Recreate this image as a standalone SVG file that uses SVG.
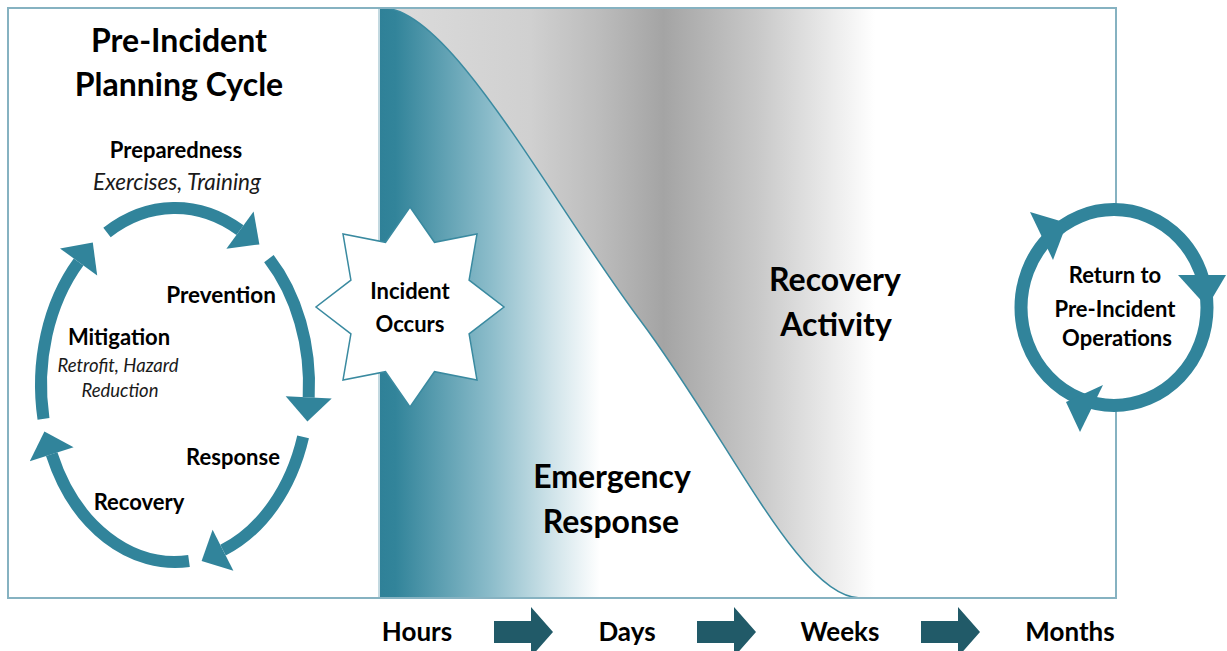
<svg xmlns="http://www.w3.org/2000/svg" width="1227" height="651" viewBox="0 0 1227 651">
<style>
.t{font-family:Lato,"Liberation Sans",sans-serif;font-weight:bold;fill:#000;text-anchor:middle}
.i{font-family:Lato,"Liberation Sans",sans-serif;font-style:italic;fill:#1a1a1a;text-anchor:middle}
.arc{fill:none;stroke:#31849b;stroke-width:12}
.head{fill:#31849b}
.step{fill:#215a68}
</style>
<defs>
<linearGradient id="tealG" gradientUnits="userSpaceOnUse" x1="380" y1="0" x2="600" y2="0">
<stop offset="0" stop-color="#2f8198"/>
<stop offset="0.07" stop-color="#32849a"/>
<stop offset="0.5" stop-color="#8bbcca"/>
<stop offset="0.78" stop-color="#cfe3e9"/>
<stop offset="1" stop-color="#ffffff"/>
</linearGradient>
<linearGradient id="grayG" gradientUnits="userSpaceOnUse" x1="383" y1="0" x2="875" y2="0">
<stop offset="0" stop-color="#dcdcdc"/>
<stop offset="0.3" stop-color="#d0d0d0"/>
<stop offset="0.44" stop-color="#bcbcbc"/>
<stop offset="0.57" stop-color="#a4a4a4"/>
<stop offset="0.76" stop-color="#c8c8c8"/>
<stop offset="1" stop-color="#ffffff"/>
</linearGradient>
</defs>
<rect width="1227" height="651" fill="#fff"/>
<g id="timeline-area">
<path d="M380,8 L383,8 C450,8 550,200 640,320 C730,440 800,598 860,598 L380,598 Z" fill="url(#tealG)"/>
<path d="M383,8 C450,8 550,200 640,320 C730,440 800,598 860,598 L1116,598 L1116,8 Z" fill="url(#grayG)"/>
<path d="M383,8 C450,8 550,200 640,320 C730,440 800,598 860,598" fill="none" stroke="#3a8aa0" stroke-width="1.5"/>
<rect x="8" y="8" width="1108" height="590" fill="none" stroke="#86b2c1" stroke-width="2"/>
<line x1="379" y1="8" x2="379" y2="598" stroke="#86b2c1" stroke-width="1"/>
</g>
<g id="title">
<text class="t" x="179" y="52" font-size="32">Pre-Incident</text>
<text class="t" x="179" y="96" font-size="32">Planning Cycle</text>
</g>
<g id="cycle-arrows">
<path class="arc" d="M107,232.5 A134,177 0 0 1 240,230.2"/>
<polygon class="head" points="253.6,211.6 226.4,248.8 259.4,244.4"/>
<path class="arc" d="M268.9,258.7 A134,177 0 0 1 308.7,397.4"/>
<polygon class="head" points="331.7,398.6 285.7,396.2 307.4,421.4"/>
<path class="arc" d="M303.1,436.8 A134,177 0 0 1 223,550.2"/>
<polygon class="head" points="233.4,570.7 212.6,529.7 201.6,561"/>
<path class="arc" d="M189,561 A134,177 0 0 1 51.7,454.2"/>
<polygon class="head" points="29.8,461.2 73.6,447.2 44.4,431.4"/>
<path class="arc" d="M43.5,418.8 A134,177 0 0 1 78.6,262"/>
<polygon class="head" points="60,248.4 97.2,275.6 92.8,242.6"/>
</g>
<g id="preparedness">
<text class="t" x="176" y="158" font-size="22">Preparedness</text>
<text class="i" x="177" y="190" font-size="22.5">Exercises, Training</text>
</g>
<g id="prevention"><text class="t" x="221" y="303" font-size="22.5">Prevention</text></g>
<g id="mitigation">
<text class="t" x="119" y="345" font-size="22">Mitigation</text>
<text class="i" x="118" y="372" font-size="18.5">Retrofit, Hazard</text>
<text class="i" x="120" y="397" font-size="18.5">Reduction</text>
</g>
<g id="response"><text class="t" x="233" y="465" font-size="22">Response</text></g>
<g id="recovery"><text class="t" x="139" y="510" font-size="22">Recovery</text></g>
<g id="incident">
<polygon points="410,207 434.5,242.3 477,234 469.1,280.2 504,307 469.1,333.8 477,380 434.5,371.7 410,407 385.5,371.7 343,380 350.9,333.8 316,307 350.9,280.2 343,234 385.5,242.3" fill="#fff" stroke="#3a8aa0" stroke-width="1.5"/>
<text class="t" x="410" y="299" font-size="22">Incident</text>
<text class="t" x="410" y="332" font-size="22">Occurs</text>
</g>
<g id="recovery-activity">
<text class="t" x="835" y="291" font-size="32">Recovery</text>
<text class="t" x="836" y="336" font-size="32">Activity</text>
</g>
<g id="emergency-response">
<text class="t" x="612" y="488" font-size="32">Emergency</text>
<text class="t" x="611" y="533" font-size="32">Response</text>
</g>
<g id="return">
<ellipse cx="1114" cy="307.5" rx="93" ry="98" fill="#fff" stroke="#31849b" stroke-width="13"/>
<polygon class="head" points="1030,212 1053,260 1067,223"/>
<polygon class="head" points="1178,275 1226,275 1207,307"/>
<polygon class="head" points="1103,385 1080,432 1066,402"/>
<text class="t" x="1115" y="283" font-size="22">Return to</text>
<text class="t" x="1115" y="317" font-size="22">Pre-Incident</text>
<text class="t" x="1117" y="346" font-size="22">Operations</text>
</g>
<g id="timescale">
<text class="t" x="417" y="641" font-size="26">Hours</text>
<text class="t" x="627" y="641" font-size="26">Days</text>
<text class="t" x="840" y="641" font-size="26">Weeks</text>
<text class="t" x="1070" y="641" font-size="26">Months</text>
<polygon class="step" points="494,621 531,621 531,607 553,632 531,657 531,643 494,643"/>
<polygon class="step" points="697,621 734,621 734,607 756,632 734,657 734,643 697,643"/>
<polygon class="step" points="921,621 958,621 958,607 980,632 958,657 958,643 921,643"/>
</g>
</svg>
